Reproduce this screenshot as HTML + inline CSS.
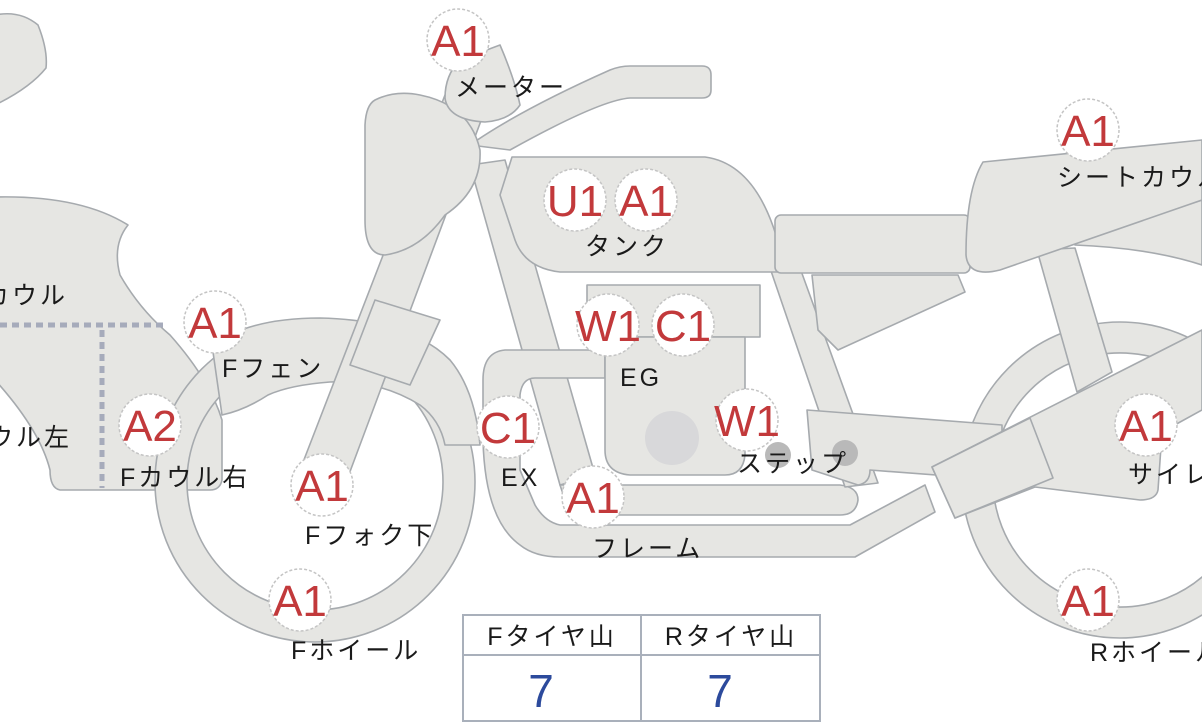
<!DOCTYPE html>
<html><head><meta charset="utf-8"><style>
html,body{margin:0;padding:0;background:#fff;}
svg{display:block;}
.s{fill:#e6e6e3;stroke:#a6aaae;stroke-width:1.6;stroke-linejoin:round;}
.b circle{fill:#fff;stroke:#c4c4c4;stroke-width:1.5;stroke-dasharray:3 2;}
.b text{fill:#c2393b;font-family:"Liberation Sans",sans-serif;font-size:44px;text-anchor:middle;}
.l{fill:#1a1a1a;font-family:"Liberation Sans","Noto Sans CJK JP",sans-serif;font-size:25px;letter-spacing:3px;}
</style></head><body>
<svg width="1202" height="722" viewBox="0 0 1202 722" xmlns="http://www.w3.org/2000/svg">
<path class="s" d="M-5 15 Q20 10 38 25 Q48 50 46 68 Q30 88 -5 105 Z"/>
<path class="s" d="M-5 197 Q80 195 128 225 Q112 245 120 275 Q140 310 170 335 Q210 380 222 420 L222 480 Q220 490 210 490 L60 490 Q50 488 50 470 Q40 430 -5 380 Z"/>
<path d="M0 325 H165 M102 330 V488" stroke="#a6abbb" stroke-width="5" stroke-dasharray="7 5" fill="none"/>
<path class="s" fill-rule="evenodd" d="M155 482 A160 160 0 1 0 475 482 A160 160 0 1 0 155 482 Z M187 482 A128 128 0 1 1 443 482 A128 128 0 1 1 187 482 Z"/>
<path class="s" d="M212 345 Q250 318 320 318 Q410 320 450 360 Q475 390 480 445 L445 445 Q440 420 420 405 Q380 380 330 382 Q290 385 268 395 Q245 410 222 415 Z"/>
<polygon class="s" points="300,470 345,485 485,110 445,95"/>
<polygon class="s" points="375,300 440,320 410,385 350,365"/>
<path class="s" fill-rule="evenodd" d="M962 480 A158 158 0 1 0 1278 480 A158 158 0 1 0 962 480 Z M993 480 A127 127 0 1 1 1247 480 A127 127 0 1 1 993 480 Z"/>
<polygon class="s" points="1037,250 1075,248 1112,372 1077,392"/>
<path class="s" d="M1075 245 Q1150 248 1202 265 L1202 200 L1075 240 Z"/>
<polygon class="s" points="470,165 505,160 595,475 560,485"/>
<path class="s" d="M605 350 L505 350 Q483 352 483 380 L483 440 Q485 520 520 545 Q535 557 560 557 L855 557 L935 512 L925 485 L850 525 L560 525 Q545 522 535 505 L520 470 L520 395 Q522 378 535 378 L605 378 Z"/>
<path class="s" d="M560 485 L840 485 Q858 487 858 500 Q856 515 840 515 L570 515 Z"/>
<rect class="s" x="587" y="285" width="173" height="52"/>
<path class="s" d="M605 337 L745 337 L745 455 Q743 475 725 475 L630 475 Q605 473 605 450 Z"/>
<circle cx="672" cy="438" r="27" fill="#d8d8da"/>
<polygon class="s" points="770,268 800,268 878,483 845,487"/>
<path class="s" d="M807 410 L1002 425 L1002 480 L870 470 Q870 483 858 485 L812 470 Z"/>
<circle cx="778" cy="455" r="13" fill="#b9b9b9"/>
<circle cx="845" cy="453" r="13" fill="#b9b9b9"/>
<path class="s" d="M932 467 L1202 330 L1202 410 L1162 432 L1158 490 Q1156 500 1140 500 L1035 487 L955 518 Z"/>
<path class="s" d="M932 467 L1030 418 L1053 478 L955 518 Z"/>
<path class="s" d="M512 157 L705 157 Q765 165 785 272 L560 272 Q525 268 515 240 L500 195 Z"/>
<rect class="s" x="775" y="215" width="195" height="58" rx="6"/>
<polygon class="s" points="812,275 958,275 965,292 838,350 818,330"/>
<path class="s" d="M983 162 L1202 140 L1202 200 L1000 270 Q968 278 966 255 Q966 190 983 162 Z"/>
<path class="s" d="M470 145 Q520 110 610 70 Q620 66 630 66 L702 66 Q711 66 711 75 L711 90 Q711 98 702 98 L630 98 Q600 100 510 150 Z"/>
<path class="s" d="M375 100 Q395 90 420 95 Q470 105 480 150 Q482 190 445 215 Q420 250 385 255 Q365 255 365 220 L365 125 Q366 105 375 100 Z"/>
<path class="s" d="M460 60 L500 45 Q515 80 520 105 Q510 120 485 122 Q448 120 445 98 Q445 75 460 60 Z"/>

<g class="b">
<circle cx="458" cy="40" r="31"/><text x="458" y="56">A1</text>
<circle cx="575" cy="200" r="31"/><text x="575" y="216">U1</text>
<circle cx="646" cy="200" r="31"/><text x="646" y="216">A1</text>
<circle cx="608" cy="325" r="31"/><text x="608" y="341">W1</text>
<circle cx="683" cy="325" r="31"/><text x="683" y="341">C1</text>
<circle cx="215" cy="322" r="31"/><text x="215" y="338">A1</text>
<circle cx="150" cy="425" r="31"/><text x="150" y="441">A2</text>
<circle cx="322" cy="485" r="31"/><text x="322" y="501">A1</text>
<circle cx="508" cy="427" r="31"/><text x="508" y="443">C1</text>
<circle cx="747" cy="420" r="31"/><text x="747" y="436">W1</text>
<circle cx="593" cy="497" r="31"/><text x="593" y="513">A1</text>
<circle cx="300" cy="600" r="31"/><text x="300" y="616">A1</text>
<circle cx="1088" cy="130" r="31"/><text x="1088" y="146">A1</text>
<circle cx="1146" cy="425" r="31"/><text x="1146" y="441">A1</text>
<circle cx="1088" cy="600" r="31"/><text x="1088" y="616">A1</text>
</g>

<text class="l" x="455" y="96">メーター</text>
<text class="l" x="585" y="255">タンク</text>
<text class="l" x="620" y="386">EG</text>
<text class="l" x="737" y="472">ステップ</text>
<text class="l" x="592" y="557">フレーム</text>
<text class="l" x="222" y="377">Fフェン</text>
<text class="l" x="120" y="486">Fカウル右</text>
<text class="l" x="-16" y="304">カウル</text>
<text class="l" x="-40" y="446">カウル左</text>
<text class="l" x="305" y="544">Fフォク下</text>
<text class="l" x="501" y="486">EX</text>
<text class="l" x="291" y="659">Fホイール</text>
<text class="l" x="1057" y="186">シートカウル</text>
<text class="l" x="1128" y="483">サイレンサー</text>
<text class="l" x="1090" y="661">Rホイール</text>

<rect x="463" y="615" width="357" height="106" fill="#fff" stroke="#a9b0bb" stroke-width="2"/>
<line x1="463" y1="655" x2="820" y2="655" stroke="#a9b0bb" stroke-width="2"/>
<line x1="641" y1="615" x2="641" y2="721" stroke="#a9b0bb" stroke-width="2"/>
<text class="l" x="552" y="645" text-anchor="middle">Fタイヤ山</text>
<text class="l" x="731" y="645" text-anchor="middle">Rタイヤ山</text>
<text x="541" y="707" fill="#2c4a9c" font-family="Liberation Sans,sans-serif" font-size="46" text-anchor="middle">7</text>
<text x="720" y="707" fill="#2c4a9c" font-family="Liberation Sans,sans-serif" font-size="46" text-anchor="middle">7</text>
</svg>
</body></html>
